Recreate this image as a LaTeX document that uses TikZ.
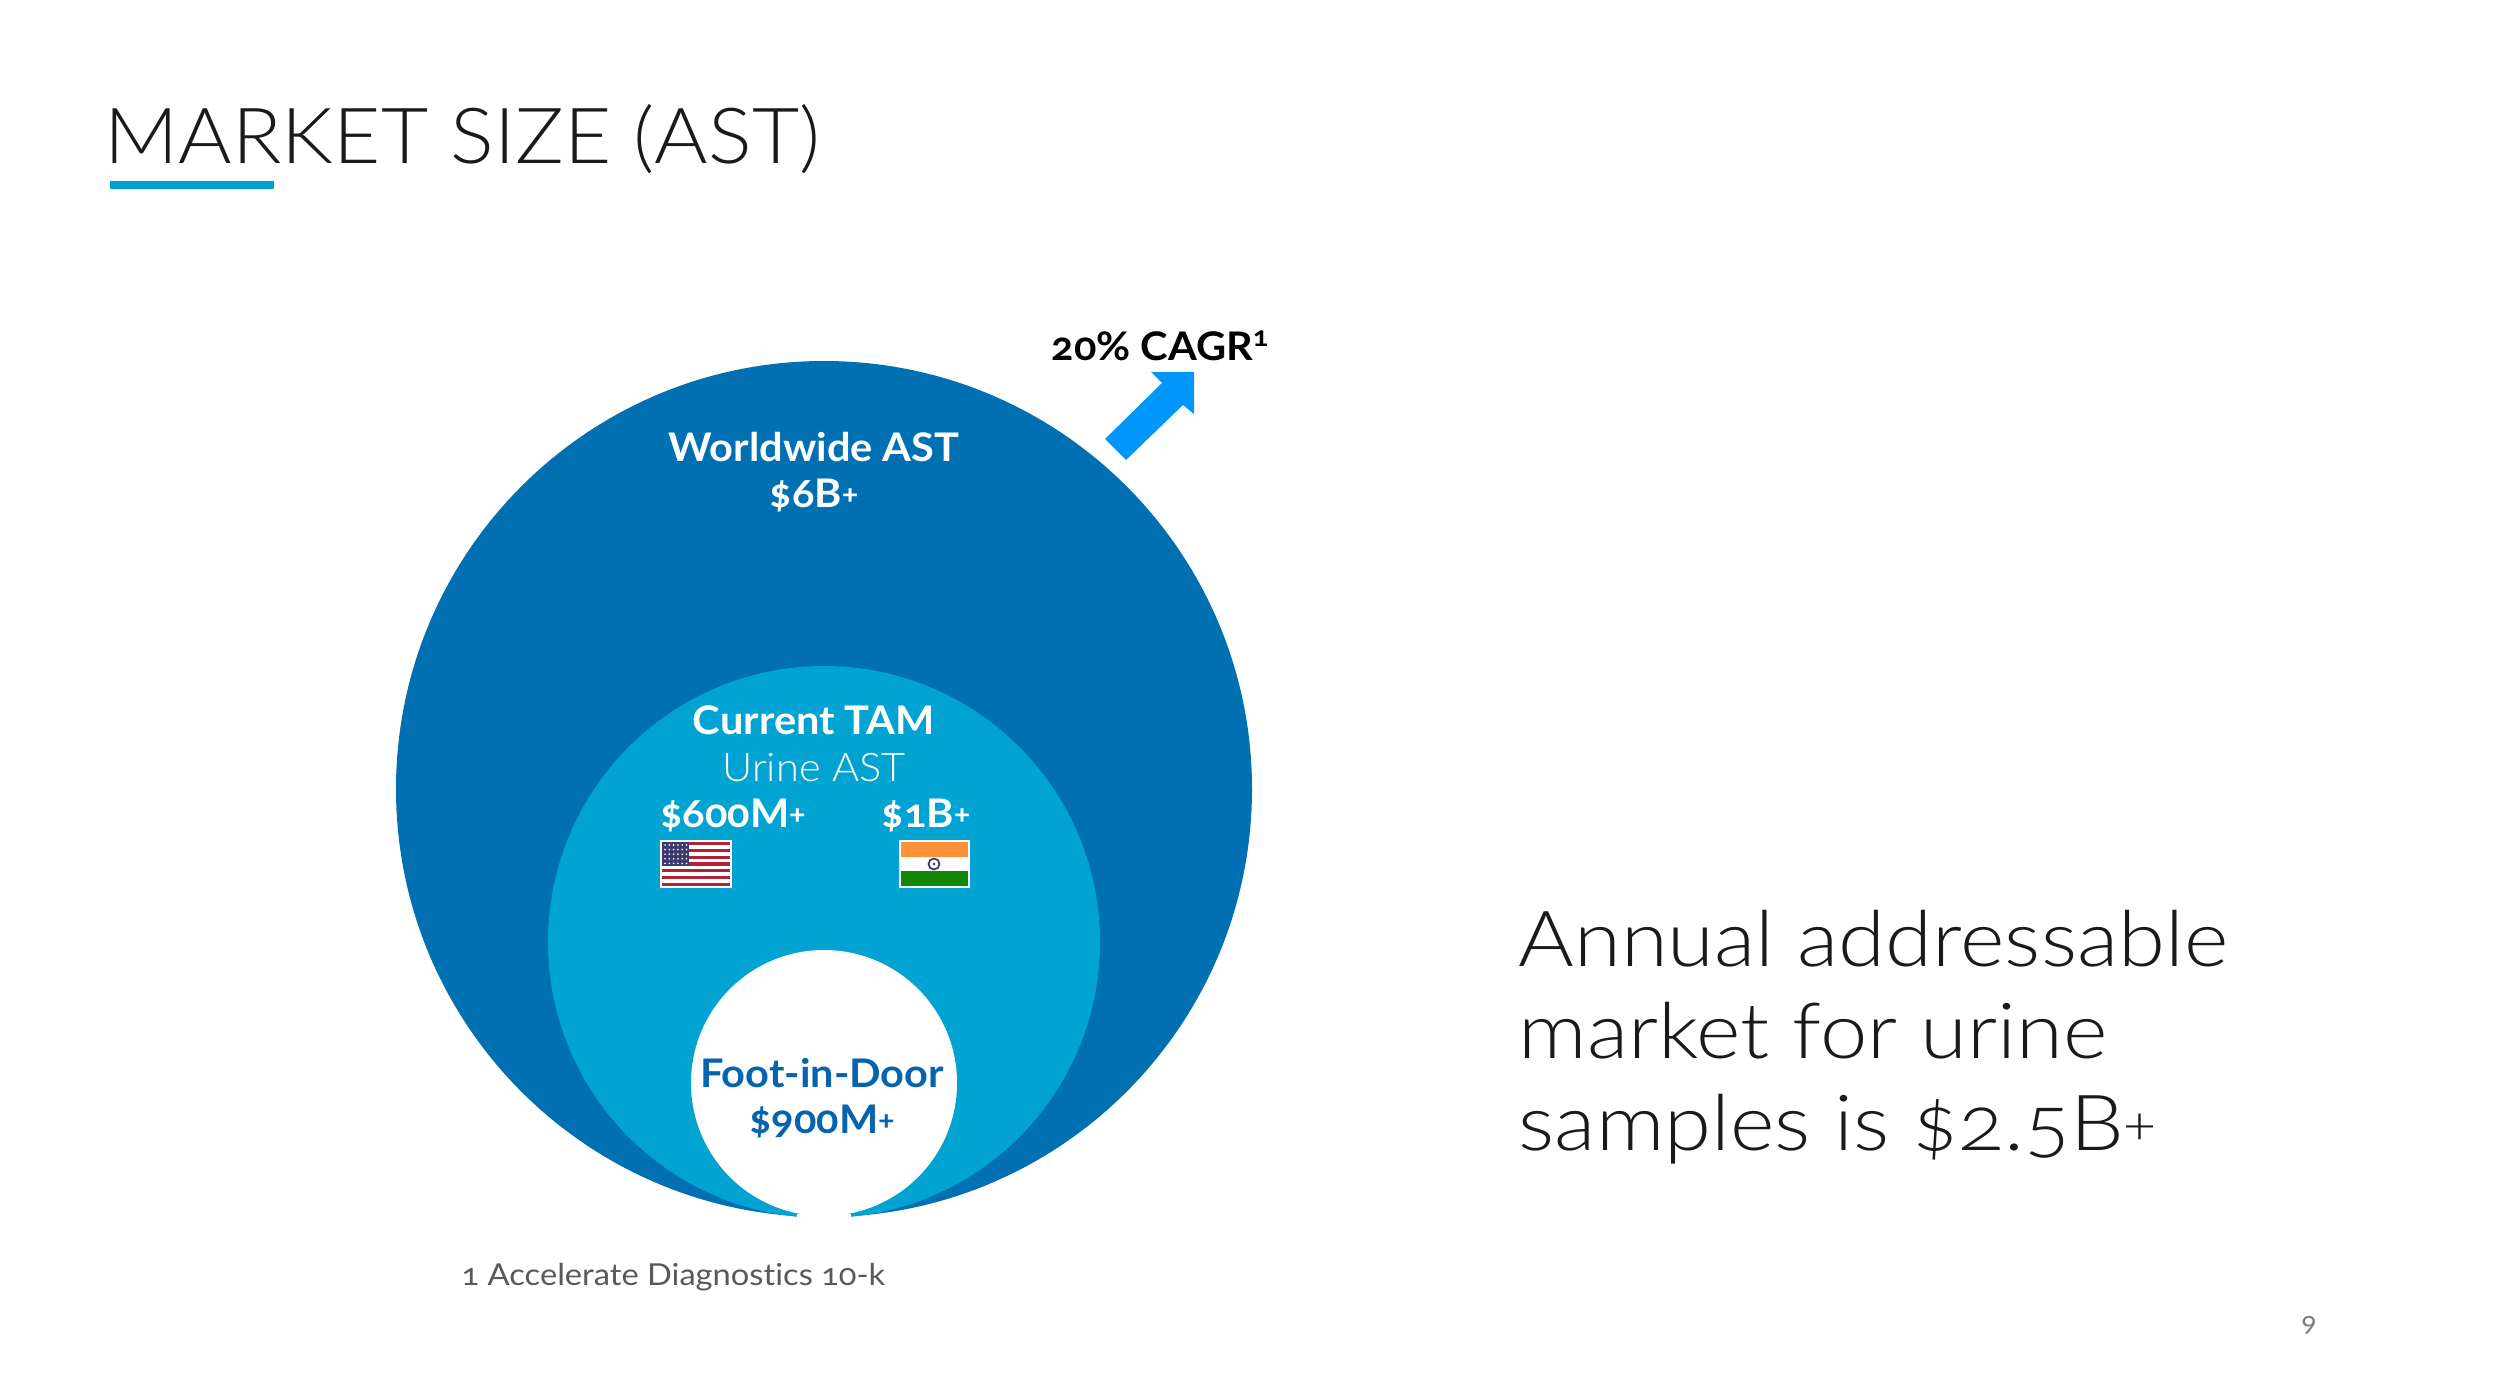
\documentclass[tikz,border=0pt]{standalone}
\usepackage{fontspec}
\setmainfont{Lato}[Numbers=OldStyle,FakeStretch=1.055,Ligatures=NoCommon]
\newfontfamily\notefont{Lato}[Numbers=OldStyle,FakeStretch=1.08,Ligatures=NoCommon]
\newfontfamily\lightfont{Lato Light}[Numbers=OldStyle,FakeStretch=1.055,Ligatures=NoCommon]
\newfontfamily\claimfont{Lato Light}[Numbers=OldStyle,FakeStretch=1.1,Ligatures=NoCommon]
\definecolor{deepblue}{HTML}{0070B3}
\definecolor{midblue}{HTML}{00A3D1}
\definecolor{accent}{HTML}{00A0D6}
\definecolor{arrowblue}{HTML}{0096FA}
\definecolor{inkblue}{HTML}{0563AF}
\definecolor{titleink}{HTML}{1A1A1A}
\definecolor{noteink}{HTML}{595959}
\definecolor{flagred}{HTML}{B22234}
\definecolor{flagnavy}{HTML}{3C3B6E}
\definecolor{flagorange}{HTML}{FF8F38}
\definecolor{flaggreen}{HTML}{138808}
\newcommand{\plusmark}{\raisebox{.1em}{\scalebox{.72}{+}}}
\usetikzlibrary{calc}
\tikzset{
  x=0.01cm,y=-0.01cm,
  lbl/.style={inner sep=0pt,align=center,text=white,font=\fontsize{11.2}{13.1}\selectfont\bfseries},
}
\begin{document}
\begin{tikzpicture}
\useasboundingbox (0,0) rectangle (2500,1397);
\fill[white] (0,0) rectangle (2500,1397);
% title
\node[inner sep=0pt,anchor=base west,text=titleink,font=\fontsize{22}{26}\lightfont] (title) at (104,164) {MARKET SIZE (AST)};
\fill[accent] (110,181) rectangle (274,189);
% circles
\fill[deepblue] (824,789) circle (428);
\fill[midblue] (824,942) circle (276);
\fill[white] (824,1083) circle (133);
\fill[white] (797,1214) rectangle (851,1222);
% arrow
\fill[arrowblue] (1105,439) -- (1162,383) -- (1151,372) -- (1194,372) -- (1194,414) -- (1183,405) -- (1126,460) -- cycle;
% labels
\node[lbl,text=black,anchor=base] (cagr) at (1161,360) {20\% CAGR\textsuperscript{1}};
\node[lbl,anchor=base] (ww) at (814,461) {Worldwide AST};
\node[lbl,anchor=base] (wwv) at (814,507) {\$6B\plusmark};
\node[lbl,anchor=base] (tam) at (814,734) {Current TAM};
\node[lbl,anchor=base,font=\fontsize{11.2}{13}\lightfont] (urine) at (814,781) {Urine AST};
\node[lbl,anchor=base] (usv) at (733,827) {\$600M\plusmark};
\node[lbl,anchor=base] (inv) at (926,827) {\$1B\plusmark};
\node[lbl,text=inkblue,anchor=base] (fid) at (822,1087) {Foot-in-Door};
\node[lbl,text=inkblue,anchor=base] (fidv) at (822,1133) {\$900M\plusmark};
\node[inner sep=0pt,anchor=base west,text=noteink,font=\fontsize{8.6}{10}\notefont] (note) at (461,1285) {1 Accelerate Diagnostics 10-k};
\node[inner sep=0pt,anchor=base,text=noteink!80,font=\fontsize{7.6}{9}\selectfont] (page) at (2309,1331) {9};
\node[inner sep=0pt,anchor=north west,align=left,text=titleink,font=\fontsize{22}{26.2}\claimfont] (claim) at (1518,909) {Annual addressable\\market for urine\\samples is \$2.5B\plusmark};
% US flag
\fill[white] (660,840) rectangle (732,888);
\foreach \i in {0,2,...,12} \fill[flagred] (662,{842+\i*44/13}) rectangle (730,{842+(\i+1)*44/13});
\fill[flagnavy] (662,842) rectangle (689,866);
\foreach \r in {0,...,4} \foreach \c in {0,...,5} \fill[white] ({665+\c*4.3},{845+\r*4.6}) circle (0.9);
% India flag
\fill[white] (899,840) rectangle (970,888);
\fill[flagorange] (901,842) rectangle (968,857);
\fill[flaggreen] (901,871) rectangle (968,886);
\draw[flagnavy,line width=0.5pt] (934,864) circle (5.5);
\fill[flagnavy] (934,864) circle (1.5);
\end{tikzpicture}
\end{document}
